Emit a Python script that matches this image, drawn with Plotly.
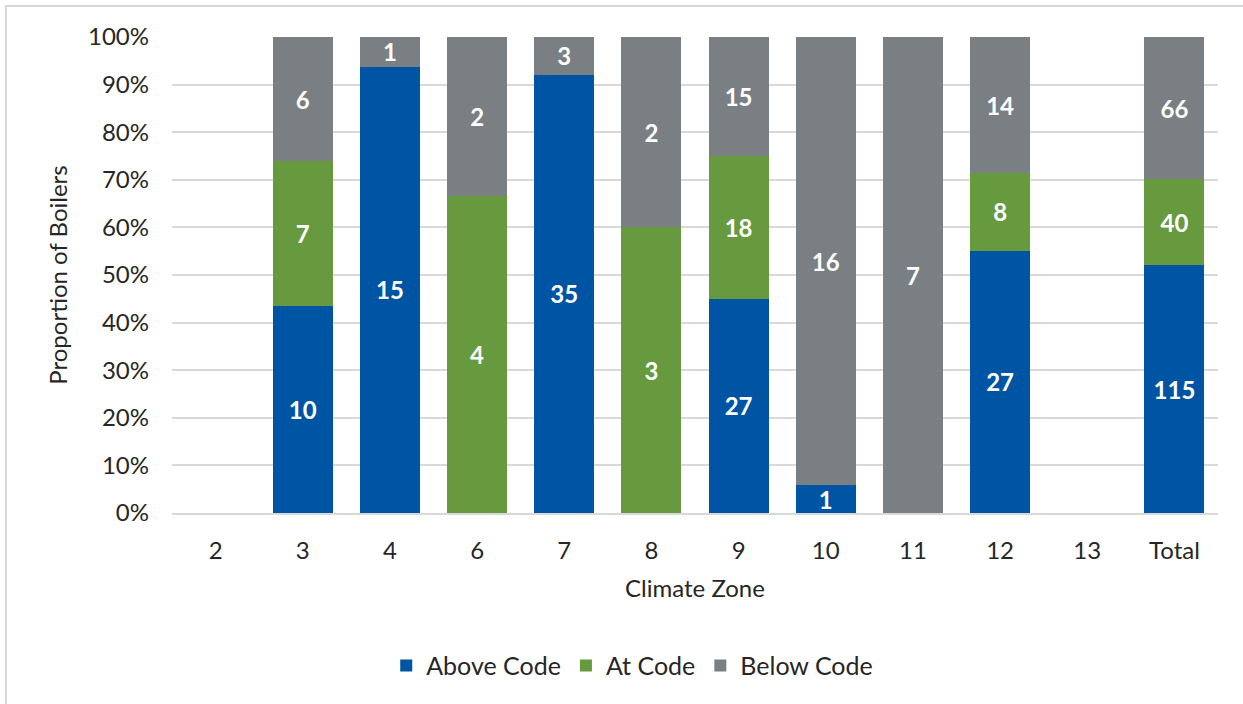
import plotly.graph_objects as go

categories = ["2", "3", "4", "6", "7", "8", "9", "10", "11", "12", "13", "Total"]
above_code = [None, 10, 15, None, 35, None, 27, 1, None, 27, None, 115]
at_code = [None, 7, None, 4, None, 3, 18, None, None, 8, None, 40]
below_code = [None, 6, 1, 2, 3, 2, 15, 16, 7, 14, None, 66]

series = [
    ("Above Code", above_code, "#0054A4"),
    ("At Code", at_code, "#67993F"),
    ("Below Code", below_code, "#7A7F83"),
]

FONT = "Lato"
FS = 24
fig = go.Figure()
for name, vals, color in series:
    fig.add_trace(go.Bar(
        x=categories, y=vals, name=name,
        marker=dict(color=color, line=dict(width=0)),
        text=[("" if v is None else str(v)) for v in vals],
        textposition="inside", insidetextanchor="middle", textangle=0,
        textfont=dict(family=FONT, size=FS, color="white", weight="bold"),
    ))

fig.update_layout(
    barmode="stack", barnorm="percent", bargap=0.31,
    width=1243, height=704,
    margin=dict(l=172, r=25, t=37, b=191),
    paper_bgcolor="white", plot_bgcolor="white",
    font=dict(family=FONT, size=FS, color="#262626"),
    uniformtext=dict(mode="show", minsize=FS),
    legend=dict(orientation="h", x=0.44, xanchor="center", y=-0.321, yanchor="middle",
                font=dict(size=25, color="#262626"), itemwidth=30, traceorder="normal"),
    xaxis=dict(title=dict(text="Climate Zone", standoff=17, font=dict(size=FS)),
               showgrid=False, showline=True, linecolor="#D9D9D9", linewidth=2,
               ticks="", tickfont=dict(size=FS), ticklabelstandoff=15),
    yaxis=dict(title=dict(text="Proportion of Boilers", standoff=13, font=dict(size=FS)),
               range=[0, 100], dtick=10, ticksuffix="%", showgrid=True,
               gridcolor="#D9D9D9", gridwidth=2, zeroline=False, showline=False,
               tickfont=dict(size=FS), ticklabelstandoff=22),
    shapes=[dict(type="rect", xref="paper", yref="paper",
                 x0=(6 - 172) / 1046, x1=1.2, y0=-0.6, y1=(513 - 6) / 476,
                 line=dict(color="#D9D9D9", width=2), fillcolor="rgba(0,0,0,0)", layer="below")],
)

fig.write_html("out.html")
